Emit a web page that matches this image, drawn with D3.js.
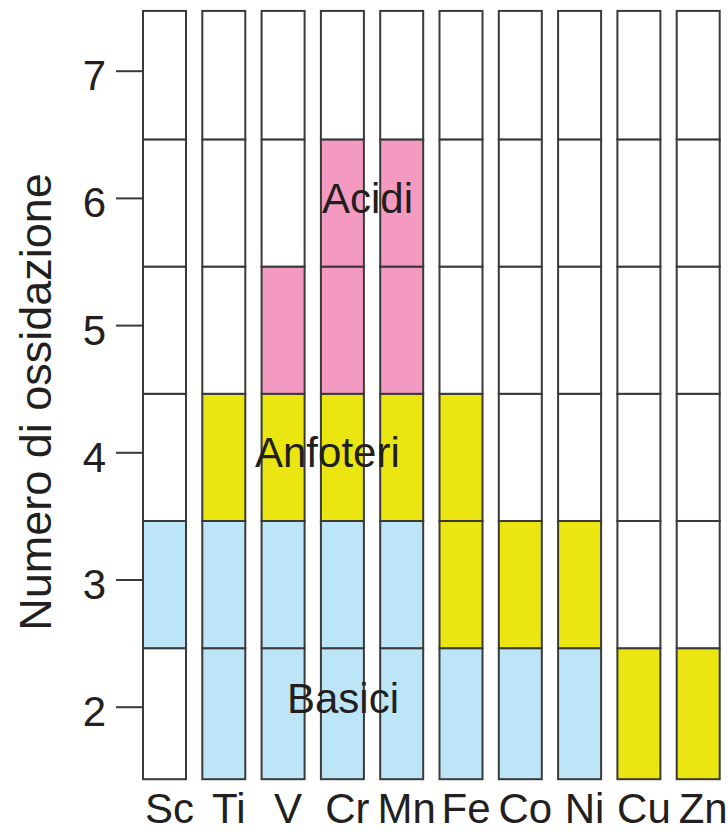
<!DOCTYPE html>
<html>
<head>
<meta charset="utf-8">
<script src="https://cdn.jsdelivr.net/npm/d3@7"></script>
<style>
  body { margin: 0; background: #fff; }
  text { font-family: "Liberation Sans", Arial, Helvetica, sans-serif; fill: #231f20; }
</style>
</head>
<body>
<script>
// elementi della prima serie di transizione
var elementi = ["Sc", "Ti", "V", "Cr", "Mn", "Fe", "Co", "Ni", "Cu", "Zn"];
var stati = [2, 3, 4, 5, 6, 7];

// numeri di ossidazione per tipo di ossido, allineati con elementi
var basici   = [[3], [2, 3], [2, 3], [2, 3], [2, 3], [2], [2], [2], [], []];
var anfoteri = [[], [4], [4], [4], [4], [3, 4], [3], [3], [2], [2]];
var acidi    = [[], [], [5], [5, 6], [5, 6], [], [], [], [], []];

var colori = {basico: "#bde5f8", anfotero: "#ebe612", acido: "#f49ac1", nessuno: "#ffffff"};

var W = 728, H = 832;

var svg = d3.select("body").append("svg")
  .attr("width", W)
  .attr("height", H);

var x = d3.scaleBand().domain(elementi).range([143, 719.7]).paddingInner(0.275).paddingOuter(0);
var y = d3.scaleLinear().domain([2, 7]).range([706.7, 70.7]);

function tipo(i, s) {
  if (basici[i].indexOf(s) >= 0) return "basico";
  if (anfoteri[i].indexOf(s) >= 0) return "anfotero";
  if (acidi[i].indexOf(s) >= 0) return "acido";
  return "nessuno";
}

var celle = [];
elementi.forEach(function(el, i) {
  stati.forEach(function(s) {
    celle.push({el: el, s: s, t: tipo(i, s)});
  });
});

// limiti delle celle: la prima e l'ultima arrivano ai bordi della colonna
function basso(s) { return s == 2 ? 1.43 : s - 0.54; }
function alto(s) { return s == 7 ? 7.47 : s + 0.46; }

svg.append("g").selectAll("rect")
  .data(celle)
  .enter()
  .append("rect")
  .attr("x", function(d) { return x(d.el); })
  .attr("width", x.bandwidth())
  .attr("y", function(d) { return y(alto(d.s)); })
  .attr("height", function(d) { return y(basso(d.s)) - y(alto(d.s)); })
  .attr("fill", function(d) { return colori[d.t]; })
  .attr("stroke", "#3a3a3a")
  .attr("stroke-width", 2);

// asse y
var yAxis = d3.axisLeft(y).tickValues(stati).tickFormat(d3.format("d")).tickSize(27).tickPadding(10);
var gy = svg.append("g").attr("transform", "translate(143,0)").call(yAxis);
gy.select(".domain").remove();
gy.selectAll(".tick line").attr("stroke", "#3a3a3a").attr("stroke-width", 2);
gy.selectAll(".tick text")
  .attr("font-size", 42)
  .attr("dy", "0.45em")
  .style("font-family", "'Liberation Sans', Arial, sans-serif")
  .attr("fill", "#231f20");

// asse x
var xAxis = d3.axisBottom(x).tickSize(0);
var gx = svg.append("g").call(xAxis);
gx.select(".domain").remove();
gx.selectAll(".tick text")
  .attr("font-size", 42)
  .attr("y", 823)
  .attr("dy", 0)
  .attr("dx", 5)
  .style("font-family", "'Liberation Sans', Arial, sans-serif")
  .attr("fill", "#231f20");

svg.append("text")
  .attr("transform", "translate(51,402) rotate(-90)")
  .attr("text-anchor", "middle")
  .attr("font-size", 45)
  .text("Numero di ossidazione");

// etichette delle zone
var etichette = [
  {testo: "Acidi", x: 322, y: 213},
  {testo: "Anfoteri", x: 255, y: 467},
  {testo: "Basici", x: 287, y: 713}
];
svg.selectAll(".zona")
  .data(etichette)
  .enter()
  .append("text")
  .attr("class", "zona")
  .attr("x", function(d) { return d.x; })
  .attr("y", function(d) { return d.y; })
  .attr("font-size", 42)
  .text(function(d) { return d.testo; });
</script>
</body>
</html>
